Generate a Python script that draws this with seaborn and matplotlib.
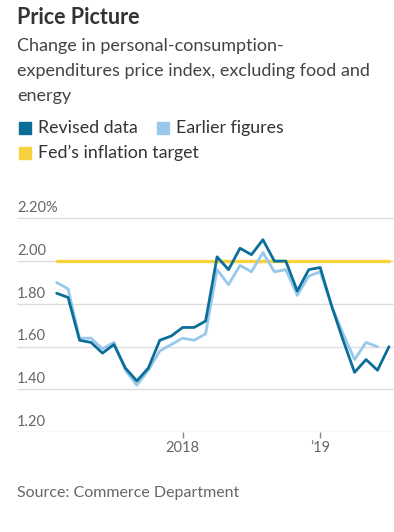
import numpy as np
import pandas as pd
import seaborn as sns
import matplotlib.pyplot as plt
import matplotlib.transforms as mtransforms
from matplotlib.patches import Rectangle

# monthly core PCE y/y change, Jan 2017 - Jun 2019
months = pd.date_range('2017-01-01', '2019-06-01', freq='MS')
revised = [1.85, 1.83, 1.63, 1.62, 1.57, 1.61, 1.50, 1.44, 1.50, 1.63,
           1.65, 1.69, 1.69, 1.72, 2.02, 1.96, 2.06, 2.03, 2.10, 2.00,
           2.00, 1.86, 1.96, 1.97, 1.79, 1.63, 1.48, 1.54, 1.49, 1.60]
earlier = [1.90, 1.87, 1.64, 1.64, 1.59, 1.62, 1.49, 1.42, 1.49, 1.58,
           1.61, 1.64, 1.63, 1.66, 1.96, 1.89, 1.98, 1.95, 2.04, 1.95,
           1.96, 1.84, 1.93, 1.95, 1.79, 1.66, 1.54, 1.62, 1.60]
fed_target = 2.0

y_ticks = [1.20, 1.40, 1.60, 1.80, 2.00, 2.20]
y_labels = ['1.20', '1.40', '1.60', '1.80', '2.00', '2.20%']
x_tick_labels = ['2018', '\u201919']

subtitle = ['Change in personal-consumption-',
            'expenditures price index, excluding food and',
            'energy']

df_rev = pd.DataFrame({'x': np.arange(len(revised)), 'value': revised})
df_old = pd.DataFrame({'x': np.arange(len(earlier)), 'value': earlier})
df_fed = pd.DataFrame({'x': [0, len(months) - 1], 'value': [fed_target, fed_target]})

sns.set_theme(style='white')
plt.rcParams['font.family'] = ['Lato', 'DejaVu Sans']

c_rev = '#0b6e99'
c_old = '#98c8ea'
c_fed = '#f6d33c'
c_text = '#333333'
c_grey = '#666666'

W, H = 394, 532
fig = plt.figure(figsize=(W / 100, H / 100), dpi=100)
ax = fig.add_axes([17 / W, (H - 432.3) / H, 377 / W, (432.3 - 207.6) / H])

sns.lineplot(data=df_fed, x='x', y='value', color=c_fed, linewidth=2.4, ax=ax)
sns.lineplot(data=df_old, x='x', y='value', color=c_old, linewidth=2.0, ax=ax)
sns.lineplot(data=df_rev, x='x', y='value', color=c_rev, linewidth=2.0, ax=ax)

ax.set_xlim(-3.46, 29.44)
ax.set_ylim(1.2, 2.25)
for v in y_ticks:
    ax.axhline(v, color='#dddddd', linewidth=1.0, zorder=0)
trans = mtransforms.blended_transform_factory(ax.transAxes, ax.transData)
for v, lab in zip(y_ticks, y_labels):
    ax.text(0, v + 0.015, lab, transform=trans, ha='left', va='bottom',
            fontsize=10.5, color=c_grey)

ax.set_yticks([])
ax.set_xticks([11, 23])
ax.set_xticklabels(x_tick_labels, fontsize=10.5, color=c_grey)
ax.tick_params(axis='x', length=4, width=1, color='#888888', pad=2, bottom=True)
ax.set_xlabel('')
ax.set_ylabel('')
sns.despine(ax=ax, left=True, top=True, right=True, bottom=True)

fig.text(17 / W, 1 - 18 / H, 'Price Picture', fontsize=15.5, fontweight='bold',
         color=c_text, va='center')
for i, line in enumerate(subtitle):
    fig.text(17 / W, 1 - (46 + 25 * i) / H, line, fontsize=13,
             color='#444444', va='center')

def legend_item(x, y, color, label):
    fig.patches.append(Rectangle(((x) / W, 1 - (y + 6) / H), 12 / W, 12 / H,
                                 transform=fig.transFigure, color=color))
    fig.text((x + 19) / W, 1 - y / H, label, fontsize=12.8, color=c_text, va='center')

legend_item(19, 128, c_rev, 'Revised data')
legend_item(157, 128, c_old, 'Earlier figures')
legend_item(19, 153, c_fed, 'Fed\u2019s inflation target')

fig.text(17 / W, 1 - 493 / H, 'Source: Commerce Department', fontsize=11.5,
         color=c_grey, va='center')

fig.savefig('out.png', dpi=100)
